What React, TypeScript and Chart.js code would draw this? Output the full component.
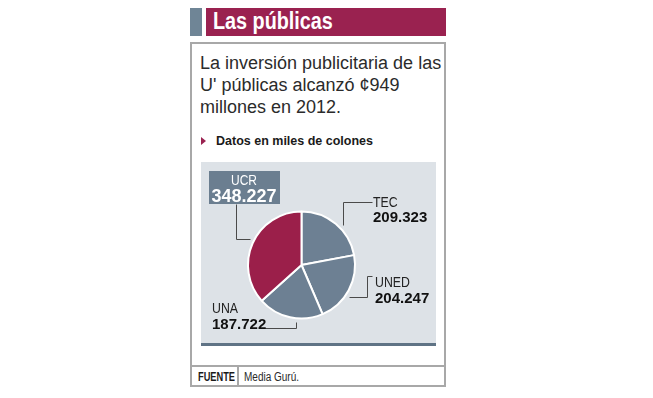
import React, { useEffect, useRef } from "react";
import { Chart, registerables } from "chart.js";

Chart.register(...registerables);

// ---- Data ----
const categories: string[] = ["TEC", "UNED", "UNA", "UCR"];
const values: number[] = [209323, 204247, 187722, 348227]; // miles de colones
const sliceColors: string[] = ["#6d8093", "#6d8093", "#6d8093", "#9b1f4a"];
const titleText = "Las públicas";
const bodyLines: string[] = [
  "La inversión publicitaria de las",
  "U' públicas alcanzó ¢949",
  "millones en 2012.",
];
const subtitleText = "Datos en miles de colones";
const sourceLabel = "FUENTE";
const sourceText = "Media Gurú.";

const FONT = "'Liberation Sans', Arial, sans-serif";
const CRIMSON = "#9a2250";

const fmt = (v: number) => String(v).replace(/\B(?=(\d{3})+(?!\d))/g, ".");

function drawText(
  ctx: CanvasRenderingContext2D,
  text: string,
  x: number,
  y: number,
  font: string,
  color: string,
  sx: number,
  align: CanvasTextAlign
) {
  ctx.save();
  ctx.translate(x, y);
  ctx.scale(sx, 1);
  ctx.font = font;
  ctx.fillStyle = color;
  ctx.textAlign = align;
  ctx.textBaseline = "alphabetic";
  ctx.fillText(text, 0, 0);
  ctx.restore();
}

const labelPlugin = {
  id: "pieLabels",
  afterDatasetsDraw(chart: any) {
    const ctx: CanvasRenderingContext2D = chart.ctx;
    const meta = chart.getDatasetMeta(0);
    meta.data.forEach((arc: any, i: number) => {
      const p = arc.getProps(["x", "y", "startAngle", "endAngle", "outerRadius"], true);
      const cx = p.x;
      const cy = p.y;
      const name = categories[i];
      const valStr = fmt(values[i]);
      const fracs: Record<string, number> = { TEC: 0.58, UNED: 0.57, UNA: 0.4, UCR: 0.52 };
      const a = p.startAngle + (fracs[name] ?? 0.5) * (p.endAngle - p.startAngle);
      const ax = cx + Math.cos(a) * (p.outerRadius + 4);
      const ay = cy + Math.sin(a) * (p.outerRadius + 4);
      let pts: number[][] = [];
      if (name === "TEC") {
        pts = [[ax, ay], [ax, cy - 63.5], [cx + 70.5, cy - 63.5]];
      } else if (name === "UNED") {
        pts = [[ax, ay], [cx + 65.5, ay], [cx + 65.5, cy + 11], [cx + 70.5, cy + 11]];
      } else if (name === "UNA") {
        pts = [[ax, ay], [ax, cy + 63], [cx - 38.5, cy + 63]];
      } else {
        pts = [[ax, ay], [cx - 65.5, ay], [cx - 65.5, cy - 61]];
      }
      ctx.save();
      ctx.strokeStyle = "#4a4a4a";
      ctx.lineWidth = 1;
      ctx.beginPath();
      pts.forEach(([x, y], k) => {
        const px = Math.round(x) + 0.5;
        const py = Math.round(y) + 0.5;
        if (k === 0) ctx.moveTo(px, py);
        else ctx.lineTo(px, py);
      });
      ctx.stroke();
      ctx.restore();

      const reg = (fs: number) => `normal ${fs}px ${FONT}`;
      const bold = (fs: number) => `bold ${fs}px ${FONT}`;
      if (name === "TEC") {
        drawText(ctx, name, cx + 71.5, cy - 58, reg(14), "#222", 0.88, "left");
        drawText(ctx, valStr, cx + 71.5, cy - 43, bold(15), "#111", 1, "left");
      } else if (name === "UNED") {
        drawText(ctx, name, cx + 73.5, cy + 21.5, reg(14), "#222", 0.88, "left");
        drawText(ctx, valStr, cx + 73.5, cy + 38, bold(15), "#111", 1, "left");
      } else if (name === "UNA") {
        drawText(ctx, name, cx - 89.5, cy + 48, reg(14), "#222", 0.88, "left");
        drawText(ctx, valStr, cx - 89.5, cy + 63.5, bold(15), "#111", 1, "left");
      } else {
        ctx.save();
        ctx.fillStyle = "#6b7e90";
        ctx.fillRect(Math.round(cx - 93), Math.round(cy - 94), 71, 33);
        ctx.restore();
        drawText(ctx, name, cx - 57.5, cy - 80.5, reg(15), "#ffffff", 0.8, "center");
        drawText(ctx, valStr, cx - 57.5, cy - 63.5, bold(18), "#ffffff", 1, "center");
      }
    });
  },
};

function PieChart() {
  const ref = useRef<HTMLCanvasElement | null>(null);
  useEffect(() => {
    if (!ref.current) return;
    const chart = new Chart(ref.current, {
      type: "pie",
      data: {
        labels: categories,
        datasets: [
          {
            data: values,
            backgroundColor: sliceColors,
            borderColor: "#ffffff",
            borderWidth: 2,
          },
        ],
      },
      options: {
        responsive: false,
        animation: false,
        devicePixelRatio: 1,
        layout: { padding: { left: 20, right: 54, top: 48.5, bottom: 23.5 } },
        plugins: { legend: { display: false }, tooltip: { enabled: false } },
        events: [],
      },
      plugins: [labelPlugin],
    });
    return () => chart.destroy();
  }, []);
  return <canvas ref={ref} width={235} height={181} style={{ display: "block" }} />;
}

export default function App() {
  const abs = (s: React.CSSProperties): React.CSSProperties => ({ position: "absolute", ...s });
  return (
    <div style={abs({ left: 0, top: 0, width: 653, height: 398, background: "#ffffff", fontFamily: FONT, overflow: "hidden" })}>
      {/* Title bar */}
      <div style={abs({ left: 190, top: 8, width: 12, height: 28, background: "#6f8596" })} />
      <div style={abs({ left: 206, top: 8, width: 240, height: 28, background: CRIMSON })} />
      <div
        style={abs({
          left: 213,
          top: 10,
          fontSize: 23,
          lineHeight: "23px",
          fontWeight: "bold",
          color: "#ffffff",
          whiteSpace: "nowrap",
          transform: "scaleX(0.86)",
          transformOrigin: "left center",
        })}
      >
        {titleText}
      </div>

      {/* Box */}
      <div style={abs({ left: 190, top: 42, width: 252, height: 341, border: "2px solid #a8a8a8" })} />

      {/* Body text */}
      <div style={abs({ left: 200, top: 51.5, fontSize: 18, lineHeight: "22px", color: "#2b2b2b", whiteSpace: "nowrap" })}>
        {bodyLines.map((l, i) => (
          <div key={i}>{l}</div>
        ))}
      </div>

      {/* Subtitle */}
      <div
        style={abs({
          left: 201,
          top: 137,
          width: 0,
          height: 0,
          borderLeft: `5px solid ${CRIMSON}`,
          borderTop: "4.5px solid transparent",
          borderBottom: "4.5px solid transparent",
        })}
      />
      <div style={abs({ left: 216, top: 135.3, fontSize: 12.5, lineHeight: "12.5px", fontWeight: "bold", color: "#1a1a1a", whiteSpace: "nowrap" })}>
        {subtitleText}
      </div>

      {/* Chart panel */}
      <div style={abs({ left: 201, top: 162, width: 235, height: 181, background: "#dde2e7" })} />
      <div style={abs({ left: 201, top: 343, width: 235, height: 3, background: "#5f7385" })} />
      <div style={abs({ left: 201, top: 162, width: 235, height: 181 })}>
        <PieChart />
      </div>

      {/* Footer */}
      <div style={abs({ left: 190, top: 365, width: 256, height: 2, background: "#a8a8a8" })} />
      <div style={abs({ left: 237, top: 366, width: 2, height: 20, background: "#a8a8a8" })} />
      <div
        style={abs({
          left: 198,
          top: 370.5,
          fontSize: 12.5,
          lineHeight: "12.5px",
          fontWeight: "bold",
          color: "#1a1a1a",
          whiteSpace: "nowrap",
          transform: "scaleX(0.74)",
          transformOrigin: "left center",
        })}
      >
        {sourceLabel}
      </div>
      <div
        style={abs({
          left: 244,
          top: 370.5,
          fontSize: 12.5,
          lineHeight: "12.5px",
          color: "#2a2a2a",
          whiteSpace: "nowrap",
          transform: "scaleX(0.8)",
          transformOrigin: "left center",
        })}
      >
        {sourceText}
      </div>
    </div>
  );
}
